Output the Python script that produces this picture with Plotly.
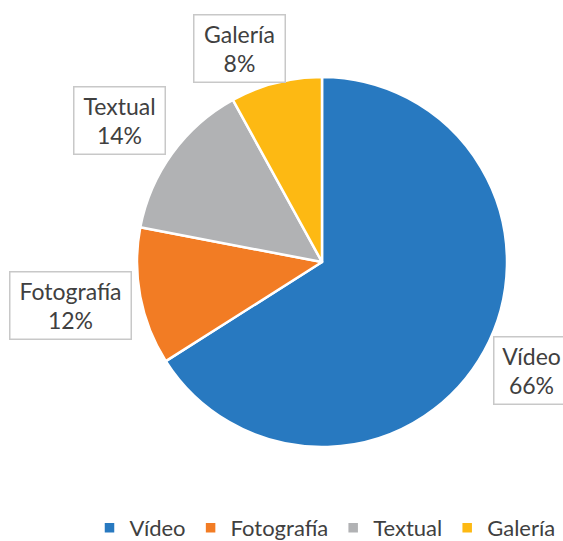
import plotly.graph_objects as go

categories = ["Vídeo", "Fotografía", "Textual", "Galería"]
values = [66, 12, 14, 8]
colors = ["#2879C0", "#F27C24", "#B1B2B4", "#FDB913"]

# label box centres in window pixels (layout styling)
label_px = [(531, 370), (70, 305), (119, 120), (240, 48)]
label_w = [72, 118, 88, 88]

W, H = 563, 541
cx, cy, r = 322, 262, 185
FONT = "Lato"


def px_x(x):
    return x / W


def px_y(y):
    return 1 - y / H


fig = go.Figure(go.Pie(
    labels=categories,
    values=values,
    marker=dict(colors=colors, line=dict(color="white", width=2.5)),
    sort=False,
    direction="clockwise",
    rotation=0,
    textinfo="none",
    hoverinfo="label+percent",
    domain=dict(x=[px_x(cx - r), px_x(cx + r)], y=[px_y(cy + r), px_y(cy - r)]),
))

total = sum(values)
annotations = []
for cat, v, (px, py), w in zip(categories, values, label_px, label_w):
    annotations.append(dict(
        x=px_x(px), y=px_y(py), xref="paper", yref="paper",
        xanchor="center", yanchor="middle",
        text=f"{cat}<br>{round(100 * v / total)}%",
        showarrow=False,
        font=dict(family=FONT, size=23, color="#404040"),
        bgcolor="white", bordercolor="#C8C8C8", borderwidth=1.5,
        width=w, height=64,
        align="center",
    ))

fig.update_layout(
    width=W, height=H,
    margin=dict(l=0, r=0, t=0, b=0, autoexpand=False),
    paper_bgcolor="white",
    annotations=annotations,
    showlegend=True,
    legend=dict(orientation="h", x=px_x(325), y=px_y(528), xanchor="center", yanchor="middle",
                font=dict(family=FONT, size=22, color="#404040"),
                itemwidth=30, traceorder="normal"),
)

fig.write_html(
    "out.html",
    config={"displayModeBar": False},
    post_script="document.body.style.margin='0';document.body.style.overflow='hidden';",
)
